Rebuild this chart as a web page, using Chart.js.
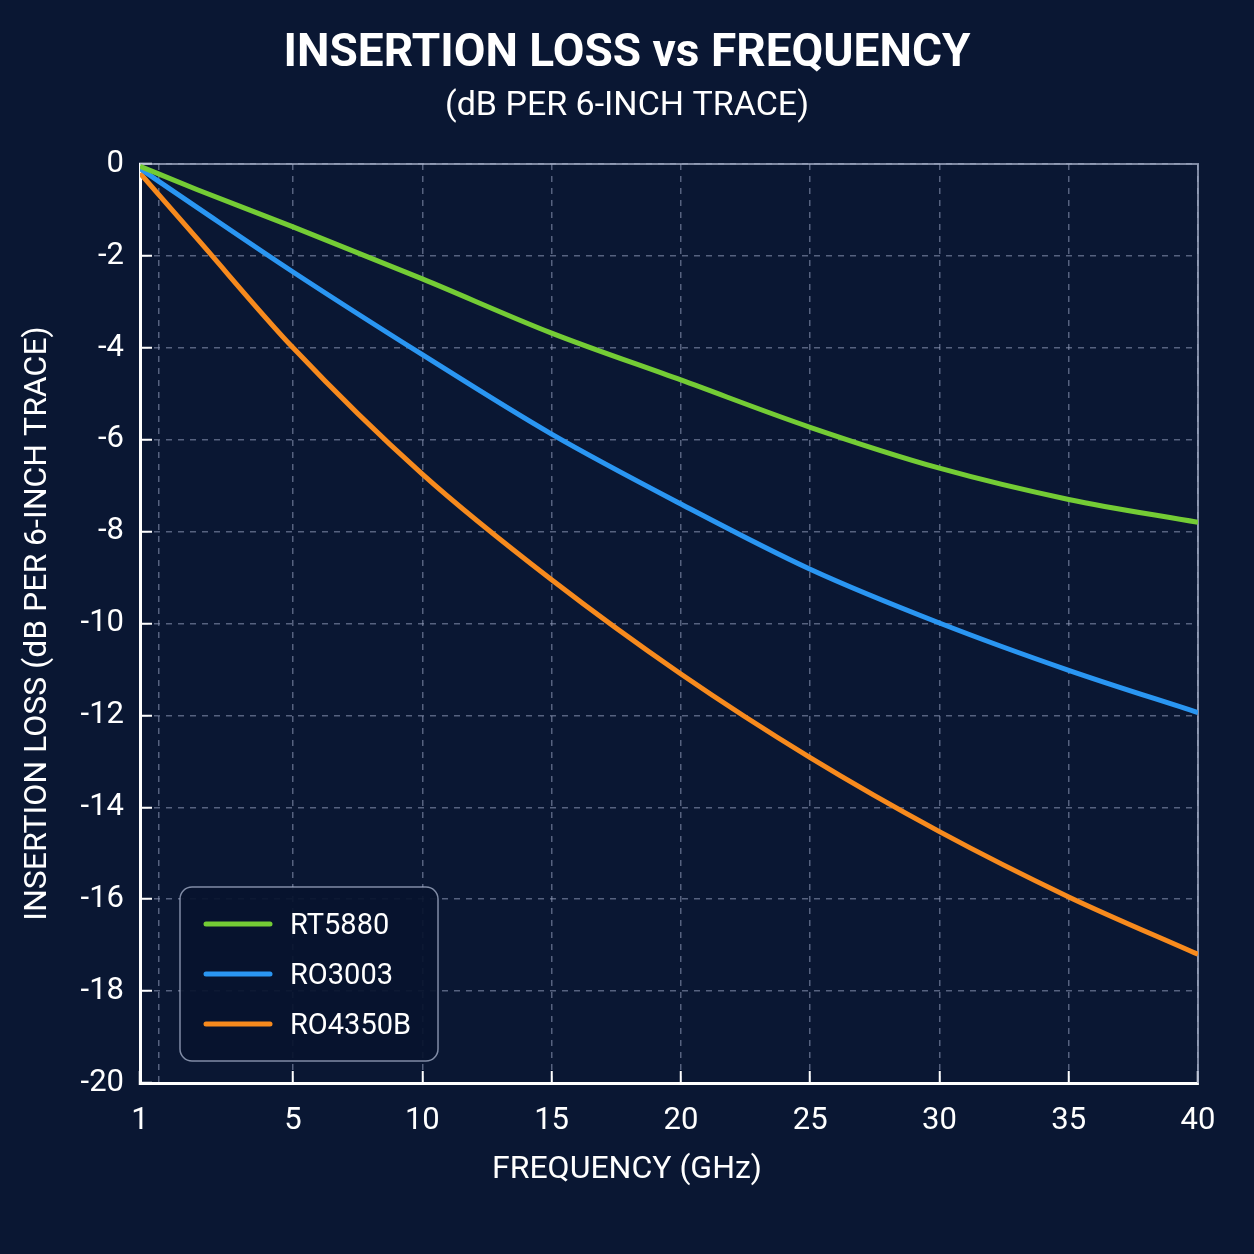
<!DOCTYPE html>
<html>
<head>
<meta charset="utf-8">
<script src="https://cdn.jsdelivr.net/npm/chart.js@4.4.1/dist/chart.umd.min.js"></script>
<style>
  html, body { margin: 0; padding: 0; background: #0a1733; }
  #wrap { width: 1254px; height: 1254px; }
</style>
</head>
<body>
<div id="wrap"><canvas id="c" width="1254" height="1254"></canvas></div>
<script>
// ---- data ----
const frequencies = [1, 2.5, 5, 10, 15, 20, 25, 30, 35, 40];
const rt5880 = [-0.05, -0.56, -1.37, -2.5, -3.68, -4.7, -5.73, -6.62, -7.3, -7.8];
const ro3003 = [-0.1, -0.95, -2.35, -4.15, -5.88, -7.4, -8.82, -9.99, -11.02, -11.94];
const ro4350b = [-0.2, -1.63, -4.0, -6.75, -9.05, -11.1, -12.92, -14.53, -15.95, -17.2];
const seriesNames = ['RT5880', 'RO3003', 'RO4350B'];
const xTickValues = [1, 1.5, 5, 10, 15, 20, 25, 30, 35, 40];
const xTickLabels = ['1', '', '5', '10', '15', '20', '25', '30', '35', '40'];
const titleText = 'INSERTION LOSS vs FREQUENCY';
const subtitleText = '(dB PER 6-INCH TRACE)';
const xTitle = 'FREQUENCY (GHz)';
const yTitle = 'INSERTION LOSS (dB PER 6-INCH TRACE)';

const COLORS = ['#74cc35', '#2a96f2', '#f78a1d'];
const FONT = 'Roboto, "Noto Sans", "DejaVu Sans", sans-serif';

// axis that stretches the low-frequency segment (1–5 GHz) as in the original
const BREAK = 5, STRETCH = 1.48;
function warp(v) { return v < BREAK ? BREAK - (BREAK - v) * STRETCH : v; }
function unwarp(w) { return w < BREAK ? BREAK - (BREAK - w) / STRETCH : w; }
class WarpScale extends Chart.LinearScale {
  getPixelForValue(value) {
    if (value === null || value === undefined || isNaN(value)) return NaN;
    const a = warp(this.min), b = warp(this.max);
    return this.getPixelForDecimal((warp(value) - a) / (b - a));
  }
  getValueForPixel(pixel) {
    const a = warp(this.min), b = warp(this.max);
    return unwarp(a + this.getDecimalForPixel(pixel) * (b - a));
  }
}
WarpScale.id = 'warp';
WarpScale.defaults = Chart.LinearScale.defaults;
Chart.register(WarpScale);

const toPoints = arr => arr.map((v, i) => ({ x: frequencies[i], y: v }));

const frameAndLegend = {
  id: 'frameAndLegend',
  beforeDatasetsDraw(chart) {
    const { ctx, chartArea: a } = chart;
    ctx.save();
    ctx.strokeStyle = 'rgba(165,175,200,0.75)';
    ctx.lineWidth = 2;
    ctx.beginPath();
    ctx.moveTo(a.left, a.top); ctx.lineTo(a.right, a.top); ctx.lineTo(a.right, a.bottom);
    ctx.stroke();
    ctx.restore();
  },
  afterDraw(chart) {
    // x-axis title, centred on the page as in the original
    const { ctx, width } = chart;
    ctx.save();
    ctx.font = '32px ' + FONT;
    ctx.fillStyle = '#ffffff';
    ctx.textAlign = 'center';
    ctx.textBaseline = 'middle';
    ctx.fillText(xTitle, width / 2, 1170);
    ctx.restore();
  },
  afterDatasetsDraw(chart) {
    const { ctx, chartArea: a } = chart;
    const bx = a.left + 40, by = a.bottom - 196, bw = 258, bh = 174;
    ctx.save();
    ctx.fillStyle = 'rgba(8,20,46,0.92)';
    ctx.strokeStyle = 'rgba(170,180,205,0.75)';
    ctx.lineWidth = 1.5;
    ctx.beginPath();
    ctx.roundRect(bx, by, bw, bh, 12);
    ctx.fill(); ctx.stroke();
    ctx.font = '29px ' + FONT;
    ctx.textBaseline = 'middle';
    chart.data.datasets.forEach((ds, i) => {
      const cy = by + 37 + i * 50;
      ctx.strokeStyle = ds.borderColor;
      ctx.lineWidth = 5;
      ctx.lineCap = 'round';
      ctx.beginPath();
      ctx.moveTo(bx + 26, cy); ctx.lineTo(bx + 90, cy);
      ctx.stroke();
      ctx.fillStyle = '#ffffff';
      ctx.fillText(ds.label, bx + 110, cy + 3);
    });
    ctx.restore();
  }
};

new Chart(document.getElementById('c'), {
  type: 'line',
  data: {
    datasets: [rt5880, ro3003, ro4350b].map((arr, i) => ({
      label: seriesNames[i],
      data: toPoints(arr),
      borderColor: COLORS[i],
      backgroundColor: COLORS[i],
      borderWidth: 5,
      pointRadius: 0,
      cubicInterpolationMode: 'monotone',
      fill: false
    }))
  },
  options: {
    responsive: false,
    animation: false,
    layout: { padding: 0 },
    plugins: {
      legend: { display: false },
      tooltip: { enabled: false },
      title: {
        display: true, text: titleText, color: '#ffffff',
        font: { family: FONT, size: 46, weight: 'bold' },
        padding: { top: 27, bottom: 4 }
      },
      subtitle: {
        display: true, text: subtitleText, color: '#ffffff',
        font: { family: FONT, size: 34 },
        padding: { top: 0, bottom: 37 }
      }
    },
    scales: {
      x: {
        type: 'warp',
        min: 1, max: 40,
        afterBuildTicks: s => { s.ticks = xTickValues.map(v => ({ value: v })); },
        afterFit: s => { s.height = 171; },
        ticks: {
          color: '#ffffff', font: { family: FONT, size: 31 }, padding: 32,
          maxRotation: 0, autoSkip: false,
          callback: (v, i) => xTickLabels[i]
        },
        grid: {
          color: 'rgba(150,160,190,0.55)', lineWidth: 1.5,
          tickLength: -12, drawTicks: true,
          tickColor: c => (c.tick && xTickLabels[c.index] === '') ? 'rgba(0,0,0,0)' : '#ffffff',
          tickWidth: 2
        },
        border: { display: true, color: '#ffffff', width: 3, dash: [6, 6] },
        title: { display: false }
      },
      y: {
        min: -20, max: 0,
        afterFit: s => { s.width = 140; },
        ticks: { stepSize: 2, color: '#ffffff', font: { family: FONT, size: 31 }, padding: 28 },
        grid: {
          color: 'rgba(150,160,190,0.55)', lineWidth: 1.5,
          tickLength: -12, drawTicks: true, tickColor: '#ffffff', tickWidth: 2
        },
        border: { display: true, color: '#ffffff', width: 3, dash: [6, 6] },
        title: {
          display: true, text: yTitle, color: '#ffffff',
          font: { family: FONT, size: 32 }, padding: { top: 19, bottom: 0 }
        }
      },
      yRight: {
        position: 'right', display: true,
        afterFit: s => { s.width = 56; },
        ticks: { display: false },
        grid: { display: false, drawTicks: false },
        border: { display: false }
      }
    }
  },
  plugins: [frameAndLegend]
});
</script>
</body>
</html>
